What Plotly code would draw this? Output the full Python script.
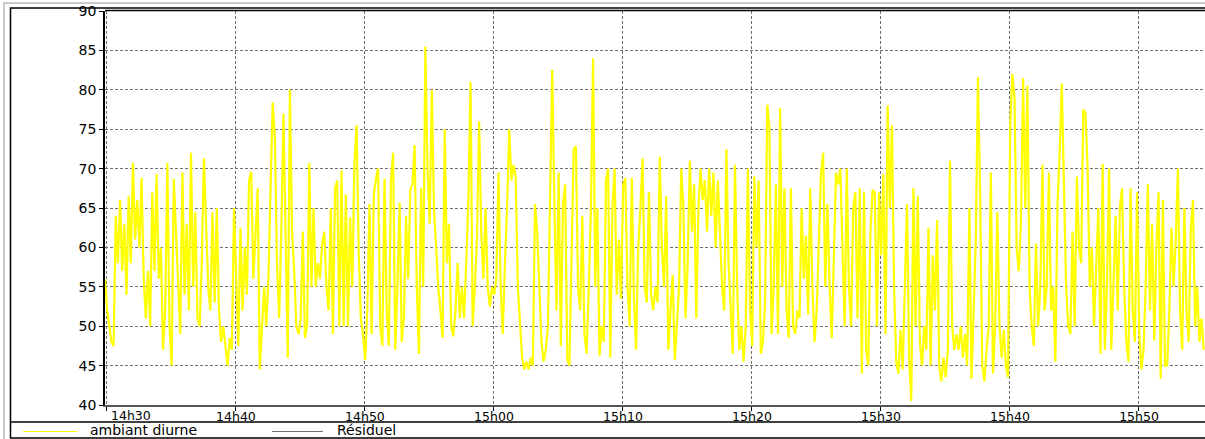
import plotly.graph_objects as go
import pandas as pd

# ---- data ----
start_time = "2000-01-01 14:29:51"
sample_step = "10s"
ambiant_diurne = [
    56, 52, 50, 48, 47.5, 64, 58, 66, 57, 63, 54, 66.5, 58, 70.7, 61, 66, 60, 68.8, 56, 51,
    57, 50, 67, 57, 69.3, 56, 60, 47, 52, 70.7, 50, 45, 68.7, 62, 54, 49, 69.5, 54, 63, 52,
    72, 55, 64.5, 51, 50, 58, 71.3, 63, 55, 52, 64.5, 53, 65, 52, 48, 50, 47, 45, 48.5, 47,
    65, 57, 47.5, 62.5, 52, 60, 54, 68.5, 69.6, 56, 62, 67.5, 44.5, 50, 55, 50, 56, 67.5, 78.4, 74,
    58, 51, 62, 77, 62, 46, 80, 62, 57, 50, 49, 51, 62, 48.5, 50, 70.7, 55, 65, 55, 58,
    56, 60.5,
    62, 55, 52, 65, 49, 67.5, 68.5, 50, 69.8, 50, 66.7, 50, 63.8, 55, 70.5, 75.5, 59.5, 51, 49, 45.7,
    52, 65.5, 49, 66.5, 68.7, 70, 50, 47.5, 68.7, 52, 47.5, 68.6, 72, 47, 55, 65.7, 48, 51, 64, 56,
    67.3, 68, 73, 55, 46.5, 67.5, 55, 85.5, 70, 63, 80, 65, 60, 55, 52, 48.5, 75, 58, 63, 50,
    48.7, 52, 58, 51, 55, 51, 58, 66, 81, 50, 55, 61, 76, 62, 56, 65, 55, 52.5, 55, 54,
    56, 69.5, 55, 49, 58, 65, 75, 68.5, 70.5, 69, 55, 50, 46, 44.5, 45.5, 44.5, 46, 45, 65.5, 62,
    55, 48,
    45.5, 47, 50, 65, 82.5, 65.5, 52, 69.5, 47.5, 65.5, 68, 45.8, 45, 59, 72.5, 72.8, 55, 52, 64, 49,
    46.5, 55, 65, 84, 55, 65, 46.2, 50, 48, 68.5, 70, 46, 65, 70, 54, 61, 53.5, 68, 68.8, 55,
    50, 68.8, 53.5, 47, 60, 65, 71.3, 55, 53, 67, 54, 52, 55, 53, 71.5, 60, 55, 66.5, 47, 52,
    56.5, 45.7, 50, 55, 70, 65, 51, 58, 71, 62, 68, 51, 65, 70, 66, 68.5, 62, 70, 64, 69.5,
    60, 68.5, 62, 55, 52, 72.5, 58, 52, 46.5, 70.5, 55, 47, 50, 45.5, 50, 70, 52, 47.5, 69, 60,
    68.5, 46.5,
    48, 53, 78.1, 75.3, 49, 55, 68, 49, 77.7, 55, 67.5, 52, 48.5, 67.5, 50, 49, 52, 51, 65, 56,
    61.5, 51.5, 67.5, 55, 48, 52, 62, 69.5, 72, 55, 65.5, 55, 48.5, 60, 69.5, 68, 70, 60, 50, 70,
    55, 50, 65, 67, 51, 67.5, 44, 67, 47, 45, 62, 67.3, 67, 50, 67, 59, 69.3, 49, 78, 65,
    75.5, 55, 45.5, 44, 49.5, 44.5, 56, 65.5, 46, 40.5, 67.5, 50, 66.5, 48, 45, 50, 47, 62.5, 45, 59,
    52, 63.5, 45, 43, 46, 43.5, 47, 71, 50, 47, 49, 47, 50, 46, 49, 45, 65, 43.3, 52, 61,
    81.6, 67, 45,
    43, 47, 50, 69.5, 44, 50, 64.5, 50, 46, 49.5, 45, 43.5, 75.5, 82, 79, 60, 57, 63, 81.5, 65,
    80.5, 55, 50, 47.5, 60.5, 50, 55, 70.5, 52, 55, 69.5, 52, 55, 45.5, 65.5, 72, 80.8, 68, 55, 50,
    49, 62, 50, 69, 60, 58, 77.5, 77, 70, 55, 60, 50, 58, 65, 46.5, 70.6, 47, 55, 70, 47,
    55, 64, 52, 65, 67.5, 55, 48, 45.5, 67.5, 52, 48, 67, 49.5, 44.5, 47, 55, 68, 52, 63, 48.2,
    60, 67, 43.3, 66, 45, 45, 52, 62.5, 55, 61, 70, 52, 47, 65, 52, 48, 62.5, 66, 50, 55,
    48, 51, 47,
]
y_ticks = [40, 45, 50, 55, 60, 65, 70, 75, 80, 85, 90]
x_tick_times = ["14:30", "14:40", "14:50", "15:00", "15:10", "15:20", "15:30", "15:40", "15:50"]
x_tick_labels = ["14h30", "14h40", "14h50", "15h00", "15h10", "15h20", "15h30", "15h40", "15h50"]
x_range = ["2000-01-01 14:29:51", "2000-01-01 15:55:07"]
legend_names = ["ambiant diurne", "Résiduel"]
legend_colors = ["#FFFF00", "#6E6E6E"]

times = pd.date_range(start=start_time, periods=len(ambiant_diurne), freq=sample_step)
tick_vals = ["2000-01-01 " + t + ":00" for t in x_tick_times]

W, H = 1205, 439
ML, MT, MR, MB = 105, 11, 0, 34
PW, PH = W - ML - MR, H - MT - MB


def px(x):
    return (x - ML) / PW


def py(y):
    return (H - MB - y) / PH


fig = go.Figure()
fig.add_trace(go.Scatter(
    x=times, y=ambiant_diurne, mode="lines", name=legend_names[0],
    line=dict(color="#FFFF00", width=2.2), showlegend=False,
))

grid = dict(showgrid=True, gridcolor="#6f6f6f", gridwidth=1, griddash="3px,2px")
xfont = dict(family="DejaVu Sans", size=12.5, color="#000000")

# first label is pushed inside the plot area (as in the reference)
shown_text = [""] + x_tick_labels[1:]

fig.update_layout(
    width=W, height=H,
    margin=dict(l=ML, r=MR, t=MT, b=MB, pad=0, autoexpand=False),
    paper_bgcolor="#FFFFFF", plot_bgcolor="#FFFFFF",
    showlegend=False,
    xaxis=dict(
        type="date", range=x_range, tickvals=tick_vals, ticktext=shown_text,
        ticks="outside", ticklen=4, tickcolor="#000000",
        showline=True, linecolor="#555555", linewidth=2, zeroline=False,
        automargin=False, ticklabelstandoff=-5, tickfont=xfont, **grid,
    ),
    yaxis=dict(
        range=[40, 90], tickvals=y_ticks, ticks="outside", ticklen=4,
        tickcolor="#000000", showline=True, linecolor="#000000", linewidth=1.5,
        zeroline=False, automargin=False,
        tickfont=dict(family="DejaVu Sans", size=14, color="#000000"),
        **grid,
    ),
)

fig.add_annotation(x=tick_vals[0], y=py(415.5), xref="x", yref="paper",
                   text=x_tick_labels[0], showarrow=False, xanchor="left", xshift=2,
                   yanchor="middle", font=xfont)

shapes = []
# light grey outer border
shapes.append(dict(type="rect", xref="paper", yref="paper",
                   x0=px(4), y0=py(445), x1=px(1215), y1=py(3),
                   line=dict(color="#c8c8c8", width=2)))
# black frame
shapes.append(dict(type="rect", xref="paper", yref="paper",
                   x0=px(10.5), y0=py(438), x1=px(1215), y1=py(8),
                   line=dict(color="#000000", width=1.5)))
# plot top border
shapes.append(dict(type="line", xref="paper", yref="paper",
                   x0=px(105), y0=py(10.5), x1=px(1215), y1=py(10.5),
                   line=dict(color="#000000", width=1.5)))
# legend separator
shapes.append(dict(type="line", xref="paper", yref="paper",
                   x0=px(10.5), y0=py(422), x1=px(1215), y1=py(422),
                   line=dict(color="#000000", width=1.5)))
# legend lines
leg_line_x = [(23, 77), (272, 323)]
leg_text_x = [88, 335]
for (a, b), col in zip(leg_line_x, legend_colors):
    shapes.append(dict(type="line", xref="paper", yref="paper",
                       x0=px(a), y0=py(431.5), x1=px(b), y1=py(431.5),
                       line=dict(color=col, width=1)))
fig.update_layout(shapes=shapes)

for name, tx in zip(legend_names, leg_text_x):
    fig.add_annotation(x=px(tx), y=py(430), xref="paper", yref="paper",
                       text=name, showarrow=False, xanchor="left", yanchor="middle",
                       font=dict(family="DejaVu Sans", size=14, color="#000000"))

fig.write_html(
    "out.html",
    config={"displayModeBar": False},
    post_script="document.body.style.margin='0';document.body.style.padding='0';"
                "document.body.style.overflow='hidden';",
)
